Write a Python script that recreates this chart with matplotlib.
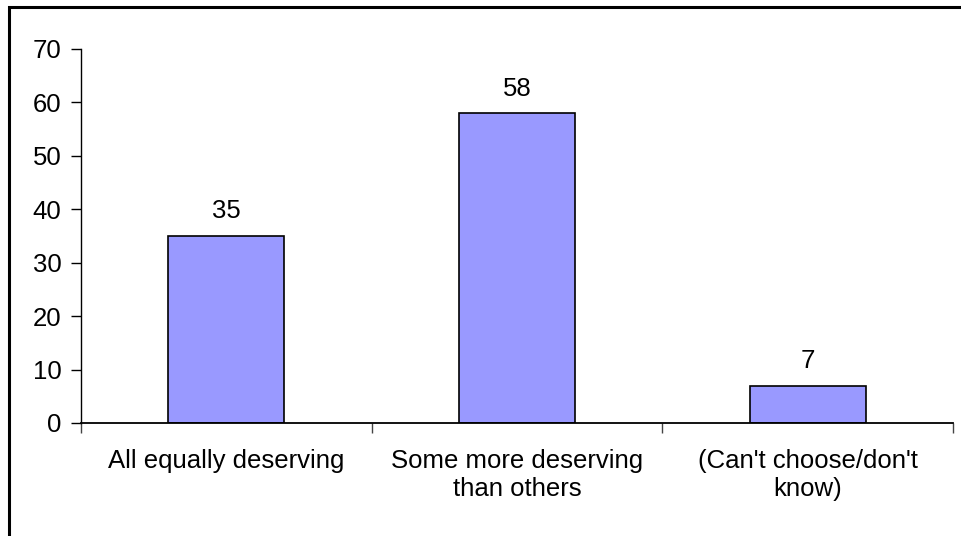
import matplotlib.pyplot as plt
from matplotlib.patches import Rectangle

categories = ["All equally deserving", "Some more deserving\nthan others", "(Can't choose/don't\nknow)"]
values = [35, 58, 7]
yticks = [0, 10, 20, 30, 40, 50, 60, 70]

plt.rcParams['font.family'] = ['Liberation Sans', 'DejaVu Sans']
FS = 18.5

W, H = 962, 536
fig = plt.figure(figsize=(W / 100, H / 100), dpi=100)

# chart area frame (left/top edges only show)
fig.patches.append(Rectangle((9 / W, -0.1), 1.2, 1 - 7 / H + 0.1, transform=fig.transFigure,
                             fill=False, edgecolor='black', linewidth=2.2))

left, right, bottom, top = 81 / W, 953 / W, 1 - 423 / H, 1 - 49 / H
ax = fig.add_axes([left, bottom, right - left, top - bottom])

x = range(len(values))
ax.bar(x, values, width=0.4, color='#9999ff', edgecolor='black', linewidth=1.2, zorder=2)
for i, v in enumerate(values):
    ax.annotate(str(v), (i, v), xytext=(0, 9), textcoords='offset points',
                ha='center', va='bottom', fontsize=FS)

ax.set_xlim(-0.5, len(values) - 0.5)
ax.set_ylim(0, 70)
ax.set_yticks(yticks)
ax.tick_params(axis='y', labelsize=FS, length=7, width=1, direction='out', pad=7)

# category labels centred, ticks on the category boundaries
ax.set_xticks([i - 0.5 for i in range(len(values) + 1)])
ax.set_xticklabels([])
ax.set_xticks(list(x), minor=True)
ax.set_xticklabels(categories, minor=True, fontsize=FS, linespacing=1.2)
ax.tick_params(axis='x', which='major', length=7, width=1, direction='out', color='#444444')
ax.tick_params(axis='x', which='minor', length=0, pad=19)

for s in ['top', 'right']:
    ax.spines[s].set_visible(False)
ax.spines['left'].set_linewidth(1)
ax.spines['bottom'].set_linewidth(1.3)

fig.savefig('out.png', dpi=100)
